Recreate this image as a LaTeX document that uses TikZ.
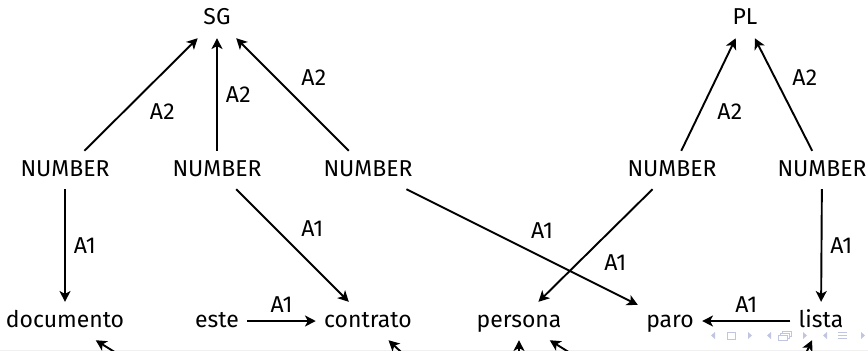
\documentclass[tikz,border=0pt]{standalone}
\usepackage{fontspec}
\setmainfont{Fira Sans}
\usetikzlibrary{arrows.meta}
\definecolor{navc}{RGB}{192,197,226}
\begin{document}
\begin{tikzpicture}[x=0.418pt,y=-0.418pt,
  wnode/.style={anchor=base, text height=7pt, text depth=2pt, inner sep=3.33pt, font=\fontsize{9.6}{12}\selectfont},
  rel/.style={thick, -{Stealth[length=4.5pt,width=4.6pt,inset=1.2pt]}},
  lab/.style={font=\fontsize{9.6}{12}\selectfont, inner sep=3.33pt}]
\clip (0,0) rectangle (868,351);
\fill[gray!12] (0,349.5) rectangle (868,351);
% nodes
\node[wnode] (sg) at (217,25) {SG};
\node[wnode] (pl) at (745,25) {PL};
\node[wnode] (n1) at (65,176) {NUMBER};
\node[wnode] (n2) at (217,176) {NUMBER};
\node[wnode] (n3) at (368,176) {NUMBER};
\node[wnode] (n4) at (672,176) {NUMBER};
\node[wnode] (n5) at (822,176) {NUMBER};
\node[wnode] (doc) at (65,327) {documento};
\node[wnode] (este) at (217,327) {este};
\node[wnode] (con) at (368,327) {contrato};
\node[wnode] (per) at (519,327) {persona};
\node[wnode] (paro) at (670,327) {paro};
\node[wnode] (lista) at (821,327) {lista};
% navigation symbols
\fill[navc] (715,332) -- (711,335.5) -- (715,339) -- cycle;
\draw[navc, line width=0.4pt] (727,332) rectangle (735,339);
\fill[navc] (748,332) -- (752,335.5) -- (748,339) -- cycle;
\fill[navc] (771,332) -- (767,335.5) -- (771,339) -- cycle;
\draw[navc, line width=0.4pt] (782,331) rectangle (791,336);
\draw[navc, line width=0.4pt, fill=white] (780,333) rectangle (789,338);
\draw[navc, line width=0.4pt, fill=white] (778,335) rectangle (787,340);
\fill[navc] (803,332) -- (807,335.5) -- (803,339) -- cycle;
\fill[navc] (827,332) -- (823,335.5) -- (827,339) -- cycle;
\draw[navc, line width=0.5pt] (838,332.5) -- (847,332.5) (838,335.5) -- (847,335.5) (838,338.5) -- (847,338.5);
\fill[navc] (861,332) -- (865,335.5) -- (861,339) -- cycle;
% free ends below the visible area
\coordinate (b1) at (161,381);
\coordinate (b2) at (432,381);
\coordinate (b3) at (519,381);
\coordinate (b4) at (615,381);
\coordinate (b5) at (793,381);
% edges
\draw[rel] (n1) -- node[lab, below right]{A2} (sg);
\draw[rel] (n2) -- node[lab, right]{A2} (sg);
\draw[rel] (n3) -- node[lab, above right]{A2} (sg);
\draw[rel] (n4) -- node[lab, below right]{A2} (pl);
\draw[rel] (n5) -- node[lab, above right]{A2} (pl);
\draw[rel] (n1) -- node[lab, right]{A1} (doc);
\draw[rel] (n2) -- node[lab, above right]{A1} (con);
\draw[rel] (n3) -- node[lab, above right]{A1} (paro);
\draw[rel] (n4) -- node[lab, below right]{A1} (per);
\draw[rel] (n5) -- node[lab, right]{A1} (lista);
\draw[rel] (este) -- node[lab, above]{A1} (con);
\draw[rel] (lista) -- node[lab, above]{A1} (paro);
\draw[rel] (b1) -- (doc);
\draw[rel] (b2) -- (con);
\draw[rel] (b3) -- (per);
\draw[rel] (b4) -- (per);
\draw[rel] (b5) -- (lista);
\end{tikzpicture}
\end{document}
